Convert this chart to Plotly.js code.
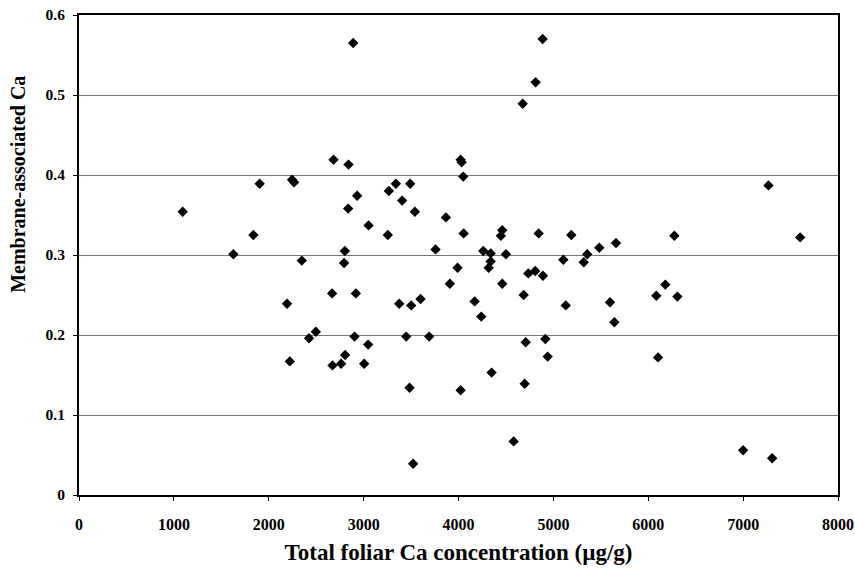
<!DOCTYPE html>
<html>
<head>
<meta charset="utf-8">
<script src="https://cdn.plot.ly/plotly-3.0.1.min.js"></script>
<style>html,body{margin:0;padding:0;background:#fff;}#chart{width:855px;height:569px;}</style>
</head>
<body>
<div id="chart"></div>
<script>
// Total foliar Ca concentration (µg/g)
const foliarCa = [
  1093, 1627, 1838, 1904, 2193, 2222, 2246, 2267, 2348, 2425,
  2496, 2668, 2672, 2683, 2763, 2794, 2802, 2805, 2837, 2841,
  2890, 2904, 2918, 2932, 3006, 3048, 3052, 3255, 3266, 3340,
  3375, 3406, 3449, 3484, 3491, 3502, 3522, 3540, 3600, 3691,
  3758, 3867, 3909, 3990, 4022, 4022, 4033, 4050, 4054, 4170,
  4240, 4261, 4318, 4339, 4339, 4349, 4447, 4461, 4461, 4500,
  4581, 4676, 4687, 4697, 4708, 4736, 4809, 4813, 4845, 4887,
  4890, 4915, 4940, 5105, 5130, 5189, 5320, 5357, 5484, 5597,
  5643, 5660, 6085, 6103, 6180, 6275, 6307, 7000, 7267, 7306,
  7601
];
// Membrane-associated Ca
const membraneCa = [
  0.354, 0.301, 0.325, 0.389, 0.239, 0.167, 0.394, 0.391, 0.293, 0.196,
  0.204, 0.252, 0.162, 0.419, 0.164, 0.290, 0.305, 0.175, 0.358, 0.413,
  0.565, 0.198, 0.252, 0.374, 0.164, 0.188, 0.337, 0.325, 0.380, 0.389,
  0.239, 0.368, 0.198, 0.134, 0.389, 0.237, 0.039, 0.354, 0.245, 0.198,
  0.307, 0.347, 0.264, 0.284, 0.419, 0.131, 0.416, 0.398, 0.327, 0.242,
  0.223, 0.305, 0.284, 0.302, 0.292, 0.153, 0.324, 0.331, 0.264, 0.301,
  0.067, 0.489, 0.250, 0.139, 0.191, 0.277, 0.280, 0.516, 0.327, 0.570,
  0.274, 0.195, 0.173, 0.294, 0.237, 0.325, 0.291, 0.301, 0.309, 0.241,
  0.216, 0.315, 0.249, 0.172, 0.263, 0.324, 0.248, 0.056, 0.387, 0.046,
  0.322
];
const xTickVals = [0, 1000, 2000, 3000, 4000, 5000, 6000, 7000, 8000];
const xTickText = ['0', '1000', '2000', '3000', '4000', '5000', '6000', '7000', '8000'];
const yTickVals = [0, 0.1, 0.2, 0.3, 0.4, 0.5, 0.6];
const yTickText = ['0', '0.1', '0.2', '0.3', '0.4', '0.5', '0.6'];
const xTitle = 'Total foliar Ca concentration (µg/g)';
const yTitle = 'Membrane-associated Ca';

const fontFam = '"Liberation Serif", "Times New Roman", serif';
const bold = s => '<b>' + s + '</b>';

Plotly.newPlot('chart', [{
  x: foliarCa,
  y: membraneCa,
  type: 'scatter',
  mode: 'markers',
  marker: {symbol: 'diamond', size: 8, color: '#000'},
  hoverinfo: 'x+y'
}], {
  width: 855,
  height: 569,
  margin: {l: 79, r: 17, t: 15, b: 74, pad: 0},
  paper_bgcolor: '#fff',
  plot_bgcolor: '#fff',
  showlegend: false,
  font: {family: fontFam, color: '#000'},
  xaxis: {
    range: [0, 8000],
    tickvals: xTickVals,
    ticktext: xTickText.map(bold),
    ticks: 'outside', ticklen: 4, tickwidth: 1, tickcolor: '#000',
    ticklabelstandoff: 10,
    showgrid: false, zeroline: false,
    showline: true, linecolor: '#000', linewidth: 2, mirror: true,
    tickfont: {family: fontFam, size: 16, color: '#000'},
    title: {text: bold(xTitle), font: {family: fontFam, size: 23, color: '#000'}, standoff: 12}
  },
  yaxis: {
    range: [0, 0.6],
    tickvals: yTickVals,
    ticktext: yTickText.map(bold),
    ticks: 'outside', ticklen: 4, tickwidth: 1, tickcolor: '#000',
    ticklabelstandoff: 5,
    showgrid: true, gridcolor: '#777', gridwidth: 1,
    zeroline: false,
    showline: true, linecolor: '#000', linewidth: 2, mirror: true,
    tickfont: {family: fontFam, size: 15.5, color: '#000'}
  },
  annotations: [{
    text: bold(yTitle),
    textangle: -90,
    xref: 'paper', yref: 'paper',
    x: (18 - 79) / 759, y: (495.5 - 185) / 480.5,
    xanchor: 'center', yanchor: 'middle',
    showarrow: false,
    font: {family: fontFam, size: 20, color: '#000'}
  }]
}, {displayModeBar: false, staticPlot: true});
</script>
</body>
</html>
